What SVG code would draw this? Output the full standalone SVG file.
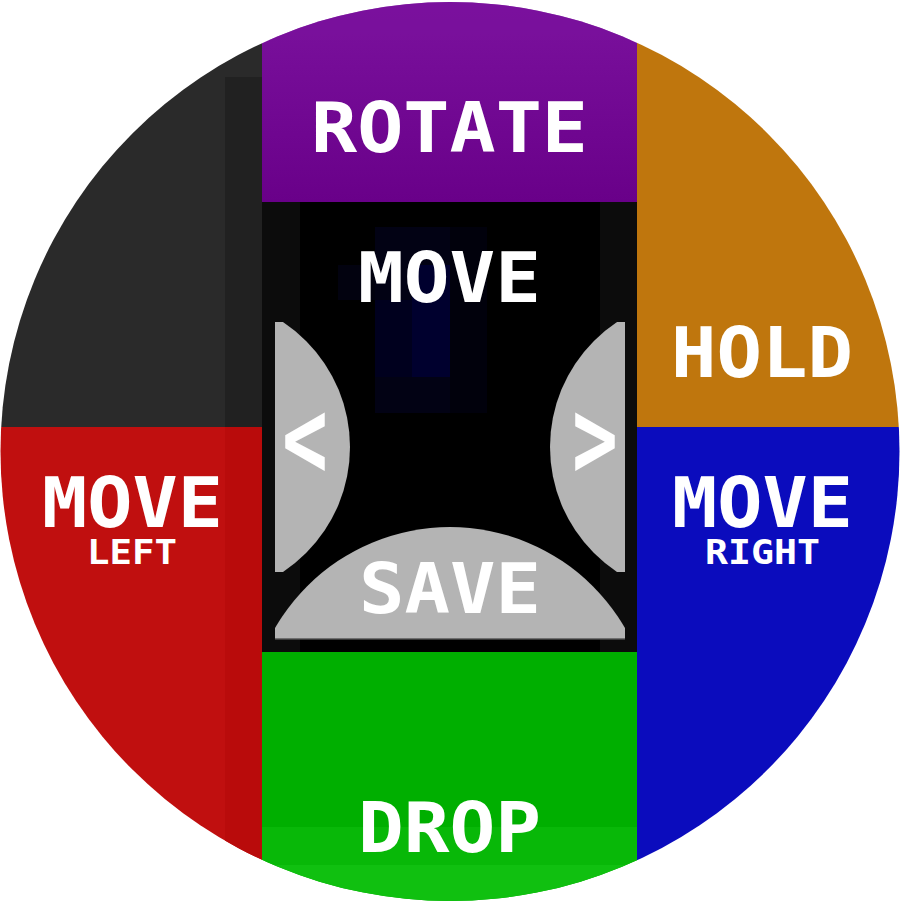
<svg xmlns="http://www.w3.org/2000/svg" width="903" height="904" viewBox="0 0 903 904">
<defs>
<clipPath id="disc"><circle cx="450" cy="451.5" r="449.5"/></clipPath>
<clipPath id="clipL"><rect x="275" y="322" width="80" height="250"/></clipPath>
<clipPath id="clipR"><rect x="545" y="322" width="80" height="250"/></clipPath>
<clipPath id="clipB"><rect x="275" y="520" width="350" height="119"/></clipPath>
<linearGradient id="gPurple" x1="0" y1="0" x2="0" y2="1">
<stop offset="0" stop-color="#7b129e"/><stop offset="1" stop-color="#690089"/>
</linearGradient>
</defs>
<style>
.lbl{font-family:"DejaVu Sans Mono","Liberation Mono",monospace;font-weight:bold;fill:#ffffff;}
.big{font-size:69px;}
.small{font-size:33px;}
.btn{fill:#b4b4b4;}
</style>
<g clip-path="url(#disc)">
<g id="blank">
<rect x="0" y="0" width="262" height="427" fill="#2a2a2a"/>
<rect x="225" y="77" width="37" height="350" fill="#212121"/>
</g>
<g id="rotate">
<rect x="262" y="0" width="375" height="202" fill="url(#gPurple)"/>
<rect x="262" y="0" width="375" height="40" fill="#7a109c" opacity="0.6"/>
<text class="lbl big" x="311" y="152" textLength="277" lengthAdjust="spacingAndGlyphs">ROTATE</text>
</g>
<g id="hold">
<rect x="637" y="0" width="266" height="427" fill="#bf760d"/>
<text class="lbl big" x="671" y="377" textLength="182" lengthAdjust="spacingAndGlyphs">HOLD</text>
</g>
<g id="move-left">
<rect x="0" y="427" width="262" height="477" fill="#c00f0f"/>
<rect x="225" y="427" width="37" height="477" fill="#b90b0b"/>
<text class="lbl"><tspan class="big" x="42" y="527" textLength="181" lengthAdjust="spacingAndGlyphs">MOVE</tspan><tspan class="small" x="87" y="564" textLength="90" lengthAdjust="spacingAndGlyphs">LEFT</tspan></text>
</g>
<g id="move-right">
<rect x="637" y="427" width="266" height="477" fill="#0b0cbd"/>
<text class="lbl"><tspan class="big" x="672" y="527" textLength="181" lengthAdjust="spacingAndGlyphs">MOVE</tspan><tspan class="small" x="705" y="564" textLength="115" lengthAdjust="spacingAndGlyphs">RIGHT</tspan></text>
</g>
<g id="drop">
<rect x="262" y="652" width="375" height="252" fill="#00af00"/>
<rect x="262" y="827" width="375" height="38" fill="#08b808"/>
<rect x="262" y="865" width="375" height="39" fill="#10c010"/>
<text class="lbl big" x="358" y="852" textLength="183" lengthAdjust="spacingAndGlyphs">DROP</text>
</g>
<g id="screen">
<rect x="262" y="202" width="375" height="450" fill="#0c0c0c"/>
<rect x="300" y="202" width="300" height="450" fill="#000000"/>
<rect x="338" y="265" width="37" height="35" fill="#02020f"/>
<rect x="375" y="227" width="75" height="186" fill="#020214"/>
<rect x="412" y="265" width="38" height="112" fill="#00002e"/>
<rect x="375" y="300" width="37" height="77" fill="#00001e"/>
<rect x="450" y="227" width="37" height="186" fill="#01010c"/>
<text class="lbl big" x="358" y="302" textLength="183" lengthAdjust="spacingAndGlyphs">MOVE</text>
</g>
<g id="btn-left">
<circle class="btn" cx="200" cy="447" r="150" clip-path="url(#clipL)"/>
<text class="lbl" x="282" y="477" font-size="112" textLength="46" lengthAdjust="spacingAndGlyphs">&lt;</text>
</g>
<g id="btn-right">
<circle class="btn" cx="700" cy="447" r="150" clip-path="url(#clipR)"/>
<text class="lbl" x="572" y="477" font-size="112" textLength="46" lengthAdjust="spacingAndGlyphs">&gt;</text>
</g>
<g id="btn-save">
<circle class="btn" cx="450" cy="729" r="202" clip-path="url(#clipB)"/>
<rect x="275" y="638" width="350" height="1.5" fill="#6e6e6e"/>
<text class="lbl big" x="359" y="613" textLength="182" lengthAdjust="spacingAndGlyphs">SAVE</text>
</g>
</g>
</svg>
